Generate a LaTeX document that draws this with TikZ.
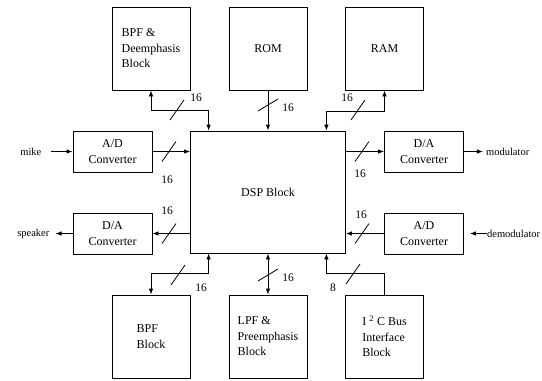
\documentclass[tikz,border=0pt]{standalone}
\usepackage{fontspec}
\setmainfont{Liberation Serif}
\usetikzlibrary{arrows.meta, positioning, calc}

\tikzset{
  block/.style={
    rectangle, draw, line width=0.8pt, minimum width=78bp, minimum height=83bp,
    inner sep=0pt, align=left, font=\fontsize{12bp}{15.5bp}\selectfont
  },
  conv/.style={
    rectangle, draw, line width=0.8pt, minimum width=79bp, minimum height=41bp,
    inner sep=0pt, align=center, font=\fontsize{12bp}{15.5bp}\selectfont
  },
  dspbox/.style={
    rectangle, draw, line width=0.8pt, minimum width=155bp, minimum height=122bp,
    inner sep=0pt, font=\fontsize{12bp}{15.5bp}\selectfont
  },
  sig/.style={line width=0.8pt, -{Latex[length=6bp, width=4.5bp]}},
  sigboth/.style={line width=0.8pt, {Latex[length=6bp, width=4.5bp]}-{Latex[length=6bp, width=4.5bp]}},
  buslabel/.style={inner sep=0pt, font=\fontsize{11.5bp}{13bp}\selectfont},
  extlabel/.style={inner sep=0pt, font=\fontsize{10.5bp}{12bp}\selectfont},
  hslash/.pic={\draw[line width=0.8pt] (-7,10) -- (7,-10);},
  vslash/.pic={\draw[line width=0.8pt] (-10,6) -- (10,-6);}
}

\begin{document}
\begin{tikzpicture}[x=1bp, y=-1bp]
  \useasboundingbox (0,0) rectangle (542,380);

  % Central block
  \node[dspbox] (dsp) at (268,192) {DSP Block};

  % Top row
  \node[block] (bpfd) at (151,48.5)   {BPF \&\\Deemphasis\\Block};
  \node[block, align=center] (rom) at (268,48.5) {ROM};
  \node[block, align=center] (ram) at (384.5,48.5) {RAM};

  % Bottom row
  \node[block] (bpf) at (151,336.5)   {BPF\\Block};
  \node[block] (lpf) at (268,336.5)   {LPF \&\\Preemphasis\\Block};
  \node[block] (i2c) at (384.5,336.5) {I \textsuperscript{2} C Bus\\Interface\\Block};

  % Converters
  \node[conv] (adl) at (112.5,151.5) {A/D\\Converter};
  \node[conv] (dar) at (424,151.5)   {D/A\\Converter};
  \node[conv] (dal) at (112.5,233.5) {D/A\\Converter};
  \node[conv] (adr) at (424,233.5)   {A/D\\Converter};

  % Outside signals
  \node[extlabel, left=31bp of adl]  (mike)  {mike};
  \node[extlabel, right=22bp of dar] (modu)  {modulator};
  \node[extlabel, left=23bp of dal]  (spk)   {speaker};
  \node[extlabel, right=23bp of adr] (demod) {demodulator};

  \draw[sig, shorten <=9bp] (mike) -- (adl);
  \draw[sig, shorten >=3bp] (dar) -- (modu);
  \draw[sig, shorten >=6bp] (dal) -- (spk);
  \draw[sig, shorten >=6bp] (demod) -- (adr);

  % Bus taps on the DSP block
  \coordinate (dspTL) at ($(dsp.north west)+(18.5,0)$);
  \coordinate (dspTR) at ($(dsp.north east)+(-19.5,0)$);
  \coordinate (dspBL) at ($(dsp.south west)+(18.5,0)$);
  \coordinate (dspBR) at ($(dsp.south east)+(-19.5,0)$);

  % Top buses
  \draw[sigboth] (bpfd.south) -- ++(0,20) -| (dspTL);
  \draw[sig] (rom.south) -- (dsp.north);
  \draw[sigboth] (ram.south) -- ++(0,21) -| (dspTR);

  % Bottom buses
  \draw[sigboth] (bpf.north) -- ++(0,-21) -| (dspBL);
  \draw[sigboth] (lpf.north) -- (dsp.south);
  \draw[sig] (i2c.north) -- ++(0,-21) -| (dspBR);

  % Side buses
  \draw[sig] (adl) -- (adl -| dsp.west);
  \draw[sig] (dsp.west |- dal) -- (dal);
  \draw[sig] (dsp.east |- dar) -- (dar);
  \draw[sig] (adr) -- (adr -| dsp.east);

  % Bus width marks
  \pic at (177,110) {hslash};
  \pic at (268,105) {vslash};
  \pic at (358,110) {hslash};
  \pic at (169,151.5) {hslash};
  \pic at (362,151.5) {hslash};
  \pic at (169,233.5) {hslash};
  \pic at (362,233.5) {hslash};
  \pic at (178,275) {hslash};
  \pic at (268,275) {vslash};
  \pic at (353,274) {hslash};

  % Bus widths
  \node[buslabel] (w1)  at (196,98)  {16};
  \node[buslabel] (w2)  at (288,108) {16};
  \node[buslabel] (w3)  at (347,98)  {16};
  \node[buslabel] (w4)  at (167,180) {16};
  \node[buslabel] (w5)  at (360,174) {16};
  \node[buslabel] (w6)  at (167,211) {16};
  \node[buslabel] (w7)  at (361,215) {16};
  \node[buslabel] (w8)  at (201,288) {16};
  \node[buslabel] (w9)  at (288,278) {16};
  \node[buslabel] (w10) at (333,288) {8};
\end{tikzpicture}
\end{document}
